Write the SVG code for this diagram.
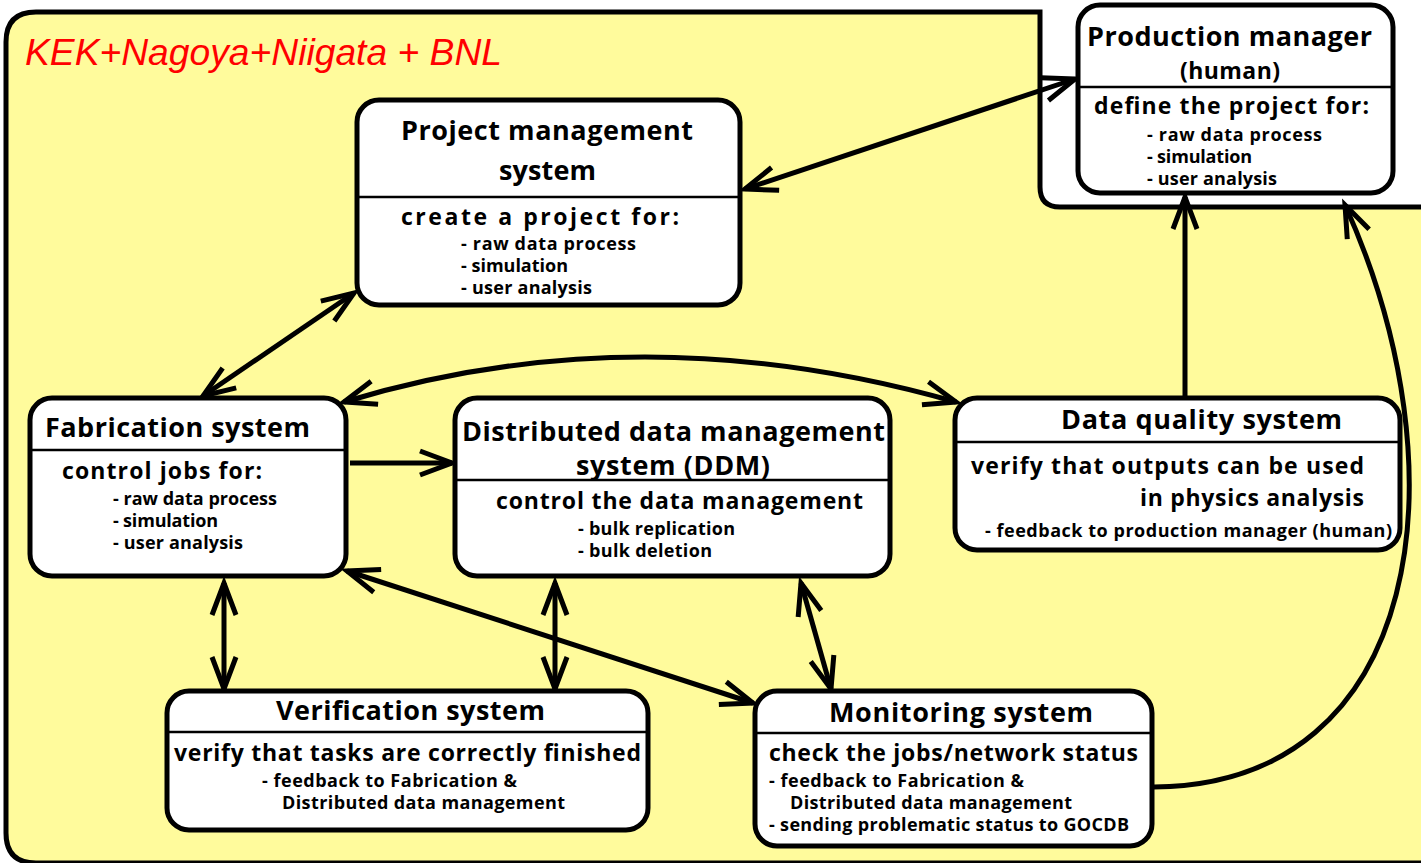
<svg xmlns="http://www.w3.org/2000/svg" width="1421" height="863" viewBox="0 0 1421 863">
<style>
.box{fill:#fff;stroke:#000;stroke-width:5}
.div{stroke:#000;stroke-width:2.5}
.t{font-family:"Open Sans","Noto Sans",sans-serif;font-weight:bold;fill:#000}
.h{font-size:27px}
.b{font-size:23px}
.i{font-size:18px}
.c{fill:none;stroke:#000;stroke-width:5}
</style>
<defs>
<marker id="a" markerUnits="userSpaceOnUse" viewBox="-40 -20 50 40" markerWidth="50" markerHeight="40" refX="0" refY="0" orient="auto-start-reverse" overflow="visible">
<path d="M-32,-12 L0,0 L-32,12" fill="none" stroke="#000" stroke-width="5" stroke-linecap="butt" stroke-linejoin="miter"/>
</marker>
</defs>
<rect width="1421" height="863" fill="#fff"/>
<path id="bg" d="M1425,207 L1060,207 Q1040,207 1040,187 L1040,12 L36,12 Q6,12 6,42 L6,833 Q6,863 36,863 L1425,863 Z" fill="#fffb9c" stroke="#000" stroke-width="5"/>
<text x="25" y="65" font-family="'Liberation Sans',Arial,sans-serif" font-style="italic" font-size="37" fill="#ff0000" textLength="477" lengthAdjust="spacingAndGlyphs">KEK+Nagoya+Niigata + BNL</text>

<g id="connectors">
<line class="c" x1="745" y1="189" x2="1075" y2="79" marker-start="url(#a)" marker-end="url(#a)"/>
<line class="c" x1="354" y1="293" x2="203" y2="396" marker-start="url(#a)" marker-end="url(#a)"/>
<path class="c" d="M344,402 Q640,312 956,402" marker-start="url(#a)" marker-end="url(#a)"/>
<line class="c" x1="350" y1="463" x2="452" y2="463" marker-end="url(#a)"/>
<line class="c" x1="1185" y1="398" x2="1185" y2="197" marker-end="url(#a)"/>
<path class="c" d="M1154,787 C1425,785 1465,470 1345,205" marker-end="url(#a)"/>
<line class="c" x1="347" y1="571" x2="753" y2="703" marker-start="url(#a)" marker-end="url(#a)"/>
<line class="c" x1="224" y1="583" x2="224" y2="689" marker-start="url(#a)" marker-end="url(#a)"/>
<line class="c" x1="555" y1="583" x2="555" y2="689" marker-start="url(#a)" marker-end="url(#a)"/>
<line class="c" x1="801" y1="583" x2="831" y2="689" marker-start="url(#a)" marker-end="url(#a)"/>
</g>

<g id="project">
<rect class="box" x="357" y="100" width="383" height="205" rx="22"/>
<line class="div" x1="358" y1="197" x2="739" y2="197"/>
<text class="t h" x="401" y="140" textLength="292">Project management</text>
<text class="t h" x="499" y="180" textLength="97">system</text>
<text class="t b" x="401" y="225" textLength="278">create a project for:</text>
<text class="t i" x="461" y="250" textLength="175">- raw data process</text>
<text class="t i" x="461" y="272" textLength="107">- simulation</text>
<text class="t i" x="461" y="294" textLength="131">- user analysis</text>
</g>

<g id="production">
<rect class="box" x="1078" y="5" width="315" height="188" rx="22"/>
<line class="div" x1="1079" y1="87" x2="1392" y2="87"/>
<text class="t h" x="1087" y="46" textLength="285">Production manager</text>
<text class="t b" x="1180" y="79" textLength="100">(human)</text>
<text class="t b" x="1094" y="114" textLength="275">define the project for:</text>
<text class="t i" x="1147" y="141" textLength="175">- raw data process</text>
<text class="t i" x="1147" y="163" textLength="105">- simulation</text>
<text class="t i" x="1147" y="185" textLength="130">- user analysis</text>
</g>

<g id="fabrication">
<rect class="box" x="30" y="398" width="316" height="178" rx="22"/>
<line class="div" x1="31" y1="450" x2="345" y2="450"/>
<text class="t h" x="45" y="437" textLength="265">Fabrication system</text>
<text class="t b" x="62" y="479" textLength="200">control jobs for:</text>
<text class="t i" x="113" y="505" textLength="164">- raw data process</text>
<text class="t i" x="113" y="527" textLength="105">- simulation</text>
<text class="t i" x="113" y="549" textLength="130">- user analysis</text>
</g>

<g id="ddm">
<rect class="box" x="455" y="398" width="435" height="178" rx="22"/>
<line class="div" x1="456" y1="480" x2="889" y2="480"/>
<text class="t h" x="462" y="441" textLength="423">Distributed data management</text>
<text class="t h" x="576" y="475" textLength="194">system (DDM)</text>
<text class="t b" x="496" y="509" textLength="367">control the data management</text>
<text class="t i" x="578" y="535" textLength="157">- bulk replication</text>
<text class="t i" x="578" y="557" textLength="134">- bulk deletion</text>
</g>

<g id="dataquality">
<rect class="box" x="955" y="398" width="445" height="152" rx="22"/>
<line class="div" x1="956" y1="442" x2="1399" y2="442"/>
<text class="t h" x="1061" y="429" textLength="281">Data quality system</text>
<text class="t b" x="971" y="474" textLength="393">verify that outputs can be used</text>
<text class="t b" x="1140" y="506" textLength="224">in physics analysis</text>
<text class="t i" x="985" y="537" textLength="407">- feedback to production manager (human)</text>
</g>

<g id="verification">
<rect class="box" x="167" y="691" width="481" height="139" rx="22"/>
<line class="div" x1="168" y1="732" x2="647" y2="732"/>
<text class="t h" x="276" y="720" textLength="269">Verification system</text>
<text class="t b" x="174" y="761" textLength="467">verify that tasks are correctly finished</text>
<text class="t i" x="262" y="787" textLength="255">- feedback to Fabrication &amp;</text>
<text class="t i" x="282" y="809" textLength="283">Distributed data management</text>
</g>

<g id="monitoring">
<rect class="box" x="755" y="691" width="397" height="155" rx="22"/>
<line class="div" x1="756" y1="733" x2="1151" y2="733"/>
<text class="t h" x="829" y="722" textLength="264">Monitoring system</text>
<text class="t b" x="769" y="761" textLength="369">check the jobs/network status</text>
<text class="t i" x="769" y="787" textLength="255">- feedback to Fabrication &amp;</text>
<text class="t i" x="790" y="809" textLength="282">Distributed data management</text>
<text class="t i" x="769" y="831" textLength="360">- sending problematic status to GOCDB</text>
</g>
</svg>
